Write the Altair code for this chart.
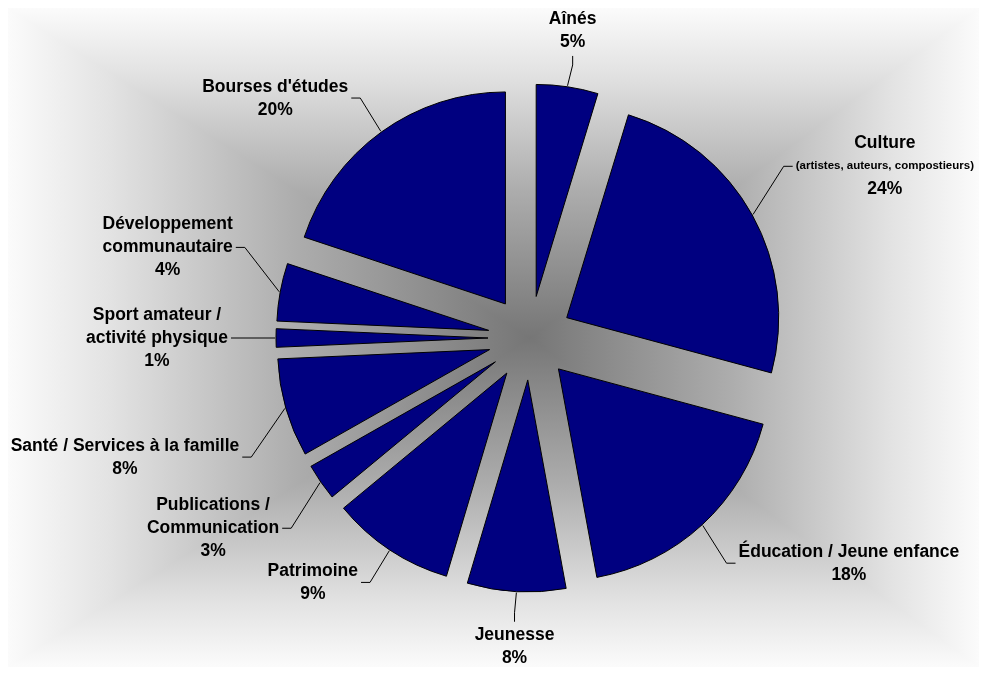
import altair as alt
import pandas as pd

# ---- data ----
names = ["Aînés", "Culture", "Éducation / Jeune enfance", "Jeunesse", "Patrimoine",
         "Publications /\nCommunication", "Santé / Services à la famille",
         "Sport amateur /\nactivité physique", "Développement\ncommunautaire",
         "Bourses d'études"]
sub_labels = ["", "(artistes, auteurs, compostieurs)", "", "", "", "", "", "", "", ""]
values = [4.7, 24.5, 17.9, 7.5, 9.4, 2.8, 7.5, 1.4, 4.4, 19.9]
pct_labels = ["5%", "24%", "18%", "8%", "9%", "3%", "8%", "1%", "4%", "20%"]

# ---- layout constants ----
W, H = 971, 659
CX, CY = 522, 330        # pie centre (chart coords)
R = 212                  # slice radius
EXPL = 42                # explosion distance
KX, KY = 290, 275        # leader knee ellipse
KP = 0.65                # vertical spreading exponent for label knees
TAIL = 9
FS, FS_SUB, LH = 17.5, 11.5, 23
FONT = "Liberation Sans"

# Arial-bold advance widths (per 1000 em) for label-width estimation
_w = {" ": 278, "'": 238, "(": 333, ")": 333, ",": 278, "/": 278, "%": 889,
      "A": 722, "B": 722, "C": 722, "D": 722, "É": 667, "J": 556, "P": 667,
      "S": 667, "a": 556, "b": 611, "c": 556, "d": 611, "e": 556, "é": 556,
      "f": 333, "h": 611, "i": 278, "î": 278, "l": 278, "m": 889, "n": 611,
      "o": 611, "p": 611, "q": 611, "r": 389, "s": 556, "t": 333, "u": 611,
      "v": 556, "y": 556, "à": 556, "x": 556, "g": 611}


def text_w(s, fs):
    return sum(_w.get(ch, 556) for ch in s) * fs / 1000.0


widths, heights, sub_off, pct_off = [], [], [], []
for n, sub, p in zip(names, sub_labels, pct_labels):
    lines = n.split("\n")
    w = max(text_w(l, FS) for l in lines + [p])
    nl = len(lines) + 1
    if sub:
        w = max(w, text_w(sub, FS_SUB))
        nl += 1
    widths.append(w)
    heights.append(nl * LH)
    sub_off.append(len(lines) * LH)
    pct_off.append((nl - 1) * LH)

df = pd.DataFrame({
    "order": list(range(len(names))),
    "name": names,
    "value": values,
    "pct": pct_labels,
    "sub": sub_labels,
    "w": widths,
    "h": heights,
    "suboff": sub_off,
    "pctoff": pct_off,
})

base = alt.Chart(df).transform_window(
    cum="sum(value)", sort=[alt.SortField("order")], frame=[None, 0]
).transform_joinaggregate(
    total="sum(value)"
).transform_calculate(
    a1="2*PI*datum.cum/datum.total",
    a0="2*PI*(datum.cum-datum.value)/datum.total",
).transform_calculate(
    mid="(datum.a0+datum.a1)/2"
).transform_calculate(
    s="sin(datum.mid)", c="cos(datum.mid)"
).transform_calculate(
    px=f"{CX}+{EXPL}*datum.s",
    py=f"{CY}-{EXPL}*datum.c",
    kx=f"{CX}+{KX}*datum.s",
    ky=f"{CY}-{KY}*(datum.c>=0 ? 1 : -1)*pow(abs(datum.c), {KP})",
    side="abs(datum.s)>0.3 ? 1 : 0",
    sg="datum.s>0 ? 1 : -1",
    vg="datum.c>0 ? -1 : 1",
).transform_calculate(
    ex=f"datum.px+{R + 1}*datum.s",
    ey=f"datum.py-{R + 1}*datum.c",
    tx=f"datum.side ? datum.kx+{TAIL}*datum.sg : datum.kx",
    ty=f"datum.side ? datum.ky : datum.ky+{TAIL}*datum.vg",
).transform_calculate(
    lx="datum.side ? datum.tx+datum.sg*(datum.w/2+3) : datum.tx",
    ly="datum.side ? datum.ty : datum.ty+datum.vg*(datum.h/2+2)",
).transform_calculate(
    # y of the first text line so that the whole block is centred on ly
    ly0=f"datum.ly-(datum.h-{LH})/2",
).transform_calculate(
    lys="datum.ly0+datum.suboff",
    lyp="datum.ly0+datum.pctoff",
)

X = lambda f: alt.X(f"{f}:Q", scale=None, axis=None)
Y = lambda f: alt.Y(f"{f}:Q", scale=None, axis=None)

slices = base.mark_arc(radius=R, fill="#000080", stroke="black", strokeWidth=1).encode(
    x=X("px"), y=Y("py"),
    theta=alt.Theta("a0:Q", scale=None),
    theta2=alt.Theta2("a1:Q"),
)

lead1 = base.mark_rule(color="black", strokeWidth=1).encode(
    x=X("ex"), y=Y("ey"), x2=alt.X2("kx:Q"), y2=alt.Y2("ky:Q"))
lead2 = base.mark_rule(color="black", strokeWidth=1).encode(
    x=X("kx"), y=Y("ky"), x2=alt.X2("tx:Q"), y2=alt.Y2("ty:Q"))

txt = dict(font=FONT, fontWeight="bold", color="black", align="center",
           baseline="middle")

name_text = base.mark_text(fontSize=FS, lineBreak="\n", lineHeight=LH, **txt).encode(
    x=X("lx"), y=Y("ly0"), text="name:N")
pct_text = base.mark_text(fontSize=FS, **txt).encode(
    x=X("lx"), y=Y("lyp"), text="pct:N")
sub_text = base.transform_filter("datum.sub != ''").mark_text(
    fontSize=FS_SUB, **txt).encode(
    x=X("lx"), y=Y("lys"), text="sub:N")

# ---- rectangular "from centre" gradient background (two linear gradients, lighten) ----
fx, fy = CX / W, CY / H
stops_u = [(0.0, "#767676"), (0.45, "#adadad"), (0.8, "#e2e2e2"), (1.0, "#fbfbfb")]


def grad(fc, horizontal):
    st = [{"offset": fc * (1 - u), "color": col} for u, col in reversed(stops_u)]
    st += [{"offset": fc + (1 - fc) * u, "color": col} for u, col in stops_u[1:]]
    return {"gradient": "linear", "stops": st, "x1": 0, "y1": 0,
            "x2": 1 if horizontal else 0, "y2": 0 if horizontal else 1}


bgdf = pd.DataFrame({"k": [0]})
bg_h = alt.Chart(bgdf).mark_rect(fill=grad(fx, True)).encode(
    x=alt.value(0), x2=alt.value(W), y=alt.value(0), y2=alt.value(H))
bg_v = alt.Chart(bgdf).mark_rect(fill=grad(fy, False), blend="lighten").encode(
    x=alt.value(0), x2=alt.value(W), y=alt.value(0), y2=alt.value(H))

chart = alt.layer(bg_h, bg_v, slices, lead1, lead2, name_text, sub_text, pct_text).properties(
    width=W, height=H, padding=0, autosize=alt.AutoSizeParams(type="none")
).configure_view(stroke=None)

chart.save("out.html", embed_options={"renderer": "svg", "actions": False})
